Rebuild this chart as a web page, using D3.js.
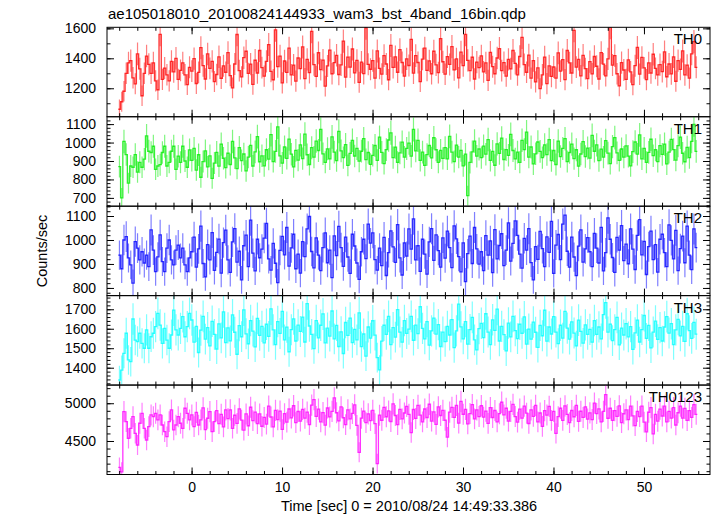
<!DOCTYPE html>
<html><head><meta charset="utf-8">
<script src="https://cdn.jsdelivr.net/npm/d3@7"></script>
<style>
html,body{margin:0;padding:0;background:#fff;}
svg{display:block;font-family:"Liberation Sans",Arial,Helvetica,sans-serif;}
</style></head>
<body>
<svg id="chart" width="717" height="516"></svg>
<script>
// ---------------- data ----------------
const title = "ae105018010_20100824144933_wam3_bst_4band_16bin.qdp";
const xLabel = "Time [sec] 0 = 2010/08/24 14:49:33.386";
const yLabel = "Counts/sec";
const binStart = -8.1;      // start time of first bin (s)
const binWidth = 0.25;      // bin width (s)
const panelNames = ["TH0", "TH1", "TH2", "TH3", "TH0123"];
const xTickLabels = [0, 10, 20, 30, 40, 50];

const th0 = [
1060,1110,1180,1300,1370,1385,1270,1230,1430,1330,1150,1300,1415,1360,1300,1370,
1250,1190,1560,1260,1335,1290,1250,1380,1310,1400,1260,1320,1370,1290,1225,1340,
1315,1398,1232,1306,1471,1351,1262,1429,1333,1380,1245,1292,1410,1267,1350,1307,
1438,1285,1203,1362,1559,1318,1276,1404,1447,1299,1361,1226,1387,1302,1452,1338,
1281,1379,1492,1313,1257,1590,1344,1415,1236,1382,1306,1468,1290,1355,1248,1402,
1331,1476,1265,1393,1304,1580,1358,1279,1437,1325,1388,1214,1349,1455,1297,1371,
1420,1292,1356,1515,1275,1408,1341,1462,1303,1386,1240,1374,1298,1604,1360,1327,
1385,1268,1449,1333,1295,1418,1362,1257,1486,1339,1410,1307,1458,1372,1281,1396,
1352,1527,1301,1418,1372,1245,1395,1468,1320,1383,1297,1447,1356,1304,1532,1377,
1294,1411,1359,1478,1323,1396,1270,1441,1351,1560,1386,1318,1407,1262,1375,1338,
1416,1309,1370,1253,1439,1344,1297,1402,1465,1318,1371,1281,1393,1330,1452,1366,
1289,1412,1540,1358,1307,1421,1268,1384,1243,1336,1197,1290,1408,1231,1350,1279,
1342,1268,1436,1315,1391,1258,1452,1370,1302,1587,1341,1393,1283,1420,1331,1264,
1378,1296,1412,1347,1262,1438,1361,1283,1396,1608,1355,1418,1297,1216,1371,1322,
1260,1389,1309,1224,1351,1473,1294,1406,1336,1258,1370,1302,1427,1333,1289,1358,
1311,1443,1277,1362,1296,1410,1247,1385,1326,1449,1289,1354,1268,1430,1512,1340
];
const th1 = [
870,700,1006,935,780,873,866,935,840,893,866,910,1036,953,946,980,
855,873,880,946,980,873,893,953,980,855,926,893,980,900,866,960,
903,968,851,934,812,897,955,868,928,806,889,947,872,991,915,864,
942,881,1006,917,859,973,902,938,846,921,985,873,950,1032,896,928,
874,961,910,1043,897,952,1085,928,889,976,914,1019,937,868,958,905,
987,913,1046,934,881,972,921,1008,957,1072,939,893,966,912,1031,948,
902,1061,955,918,989,876,941,1012,927,968,899,953,1021,907,946,882,
931,984,903,1029,947,886,962,1014,1053,918,975,893,944,1002,921,968,
997,926,1071,955,1012,903,948,876,935,984,917,1026,961,893,958,914,
972,912,1033,948,897,986,921,958,874,937,712,892,949,1008,926,965,
918,981,937,1016,903,952,877,993,941,1024,908,962,931,1044,957,912,
948,893,1012,962,1057,921,976,884,939,1003,952,918,987,935,1016,902,
957,881,1008,924,968,1021,897,946,992,913,961,872,938,1005,924,970,
916,1039,953,987,902,964,921,1011,943,886,978,1027,944,903,965,921,
982,926,874,951,1003,937,1042,912,968,893,947,1018,929,961,897,983,
936,991,884,948,1017,962,905,983,1029,942,896,974,918,1006,1098,952
];
const th2 = [
937,880,1000,1014,925,896,820,993,966,917,951,904,937,889,1042,958,
868,930,1021,910,868,966,1000,917,896,958,979,925,966,896,868,925,
951,1012,887,963,1058,902,846,981,917,1031,873,948,1004,862,989,1041,
917,865,992,1047,908,953,834,976,1020,889,1083,945,871,1003,926,962,
1008,1069,921,874,986,903,822,957,1015,938,1052,891,967,1024,880,941,
862,993,931,1046,1098,952,884,1009,937,872,968,1030,905,958,843,1017,
935,1057,968,890,1012,929,861,1024,975,904,836,951,1003,922,1066,987,
1030,918,874,966,893,1011,852,947,1038,971,907,1064,925,854,988,933,
1046,962,1088,917,976,869,1003,941,858,992,1047,915,1021,956,887,1009,
924,1037,968,885,1059,1005,931,867,988,826,943,1016,902,1052,963,899,
951,872,1018,937,996,864,1043,921,977,1026,893,958,1071,912,986,1080,
1019,941,883,1007,958,1047,906,834,972,919,1036,964,889,1013,948,1078,
861,979,1023,918,1066,1104,953,887,1012,929,851,974,1042,908,963,1010,
951,889,1028,966,904,1053,871,947,1092,1003,927,865,1011,958,1060,914,
983,901,1046,962,877,1019,1085,938,994,856,972,1037,918,981,866,1003,
1024,947,889,1063,998,921,1040,872,964,1016,905,1058,937,876,1046,968
];
const th3 = [
1337,1388,1474,1577,1440,1431,1650,1542,1534,1577,1525,1500,1594,1500,1559,1577,
1611,1679,1619,1525,1602,1542,1500,1568,1696,1594,1568,1602,1662,1559,1611,1679,
1645,1531,1612,1478,1593,1664,1547,1606,1512,1638,1571,1496,1625,1553,1687,1529,
1604,1538,1671,1582,1469,1616,1559,1697,1574,1523,1642,1588,1507,1653,1566,1612,
1528,1623,1561,1702,1594,1519,1637,1576,1689,1543,1608,1482,1595,1651,1537,1619,
1586,1660,1532,1729,1614,1571,1498,1642,1553,1618,1676,1527,1603,1562,1691,1548,
1617,1509,1584,1473,1632,1566,1654,1529,1597,1543,1681,1508,1573,1460,1609,1552,
1641,1567,1452,1389,1536,1618,1571,1664,1519,1606,1557,1698,1583,1531,1642,1576,
1598,1663,1541,1619,1575,1713,1602,1548,1637,1516,1589,1654,1572,1621,1509,1583,
1534,1612,1568,1647,1503,1589,1726,1610,1548,1637,1521,1596,1658,1543,1492,1601,
1628,1554,1677,1583,1519,1646,1592,1701,1537,1612,1570,1486,1629,1558,1663,1590,
1549,1623,1577,1661,1521,1598,1547,1634,1582,1504,1617,1564,1695,1536,1609,1573,
1662,1583,1524,1618,1552,1689,1603,1547,1635,1578,1512,1644,1587,1526,1620,1571,
1597,1531,1642,1571,1609,1548,1672,1734,1583,1624,1539,1595,1658,1517,1603,1568,
1626,1558,1611,1494,1579,1644,1532,1596,1668,1551,1617,1502,1583,1639,1545,1606,
1537,1609,1662,1578,1626,1519,1594,1648,1563,1612,1535,1677,1590,1551,1633,1572
];
const th0123 = [
4151,4090,4889,4756,4536,4668,4822,4602,4447,4735,4867,4668,4513,4690,4845,4822,
4867,4779,4845,4712,4623,4557,4756,4911,4646,4712,4822,4735,4668,4934,4867,4779,
4845,4690,4879,4712,4779,4939,4650,4801,4889,4623,4756,4902,4731,4853,4686,4912,
4797,4912,4668,4841,4733,4925,4776,4644,4858,4702,4947,4769,4883,4731,4858,4695,
4812,4723,4961,4818,4686,4905,4782,4896,4653,4862,4749,4924,4805,4967,4742,4891,
4764,4918,4802,4883,4718,4976,5048,4825,4921,4752,4876,4709,4937,4819,4892,5071,
4874,4766,4952,4808,4717,4913,4793,4865,4978,4707,4350,4802,4895,4743,4859,4769,
4906,4731,4200,4842,4775,4946,4821,4898,4758,4991,4838,4716,4918,4793,4871,4958,
4853,4611,4917,4799,4972,4843,4754,4924,4811,4987,4763,4886,4721,4952,4838,4906,
4775,4552,4883,4946,4812,4972,4738,5024,4854,4919,4727,4863,4981,4793,4911,4824,
4967,4816,4895,4734,4942,4811,4904,4753,4862,5013,4845,4934,4763,4893,4984,4824,
4751,4922,4803,4963,4868,4732,4911,4826,4973,4754,4871,4693,4902,4843,4958,4773,
4892,4601,4823,4934,4773,4965,4852,4743,4904,4821,4973,4761,4894,4812,4953,4791,
4872,4784,5002,4863,4926,4753,4892,5113,4801,4934,4772,4903,4826,4964,4743,4861,
4913,4782,4963,4832,4704,4893,4824,4962,4751,4622,4881,4942,4593,4853,4762,4922,
4831,4963,4752,4893,4803,4942,4712,4874,4962,4803,4933,4772,4903,4812,4982,4853
];
const seriesValues = [th0, th1, th2, th3, th0123];
const seriesColors = ["#ff0000", "#00ee00", "#0000ff", "#00ffff", "#ff00ff"];
const yDomains = [[1010,1607],[655,1140],[768,1141],[1311,1770],[4056,5241]];
const yMajorTicks = [[1200,1400,1600],[700,800,900,1000,1100],[800,900,1000,1100],[1400,1500,1600,1700],[4500,5000]];
const yMinorStep = [100, 20, 20, 20, 100];

// ---------------- layout ----------------
const svg = d3.select("#chart");
const left = 107, right = 710, top0 = 27.3, panelH = 89.44;
const x = d3.scaleLinear().domain([-9.35, 57.3]).range([left, right]);
const xMinor = d3.range(-8, 57, 2);

svg.append("text").attr("x", 108).attr("y", 19).attr("font-size", 15)
  .attr("fill", "#000").text(title);

seriesValues.forEach((vals, p) => {
  const y0 = top0 + p * panelH, y1 = y0 + panelH;
  const y = d3.scaleLinear().domain(yDomains[p]).range([y1, y0]);
  const g = svg.append("g");
  const clipId = "clip" + p;
  svg.append("clipPath").attr("id", clipId).append("rect")
    .attr("x", left).attr("y", y0).attr("width", right - left).attr("height", panelH);

  const data = vals.map((v, i) => ({
    t0: binStart + i * binWidth,
    t1: binStart + (i + 1) * binWidth,
    tc: binStart + (i + 0.5) * binWidth,
    v: v,
    e: Math.sqrt(v * binWidth) / binWidth   // Poisson error of the rate
  }));

  const dg = g.append("g").attr("clip-path", `url(#${clipId})`);
  dg.selectAll("line.err").data(data).join("line")
    .attr("x1", d => x(d.tc)).attr("x2", d => x(d.tc))
    .attr("y1", d => y(d.v - d.e)).attr("y2", d => y(d.v + d.e))
    .attr("stroke", seriesColors[p]).attr("stroke-opacity", 0.5).attr("stroke-width", 1.2);
  const pts = data.map(d => [d.t0, d.v]);
  pts.push([data[data.length - 1].t1, data[data.length - 1].v]);
  const line = d3.line().x(d => x(d[0])).y(d => y(d[1])).curve(d3.curveStepAfter);
  dg.append("path").attr("d", line(pts)).attr("fill", "none")
    .attr("stroke", seriesColors[p]).attr("stroke-opacity", 0.8).attr("stroke-width", 1.3);

  const fmt = d3.format("d");
  const yMinor = d3.range(Math.ceil(yDomains[p][0] / yMinorStep[p]) * yMinorStep[p], yDomains[p][1], yMinorStep[p]);
  g.append("g").attr("transform", `translate(${left},0)`)
    .call(d3.axisLeft(y).tickValues(yMajorTicks[p]).tickSize(-7).tickPadding(11).tickFormat(fmt));
  g.append("g").attr("transform", `translate(${left},0)`)
    .call(d3.axisLeft(y).tickValues(yMinor).tickSize(-3.5).tickFormat(""));
  g.append("g").attr("transform", `translate(${right},0)`)
    .call(d3.axisRight(y).tickValues(yMajorTicks[p]).tickSize(-7).tickFormat(""));
  g.append("g").attr("transform", `translate(${right},0)`)
    .call(d3.axisRight(y).tickValues(yMinor).tickSize(-3.5).tickFormat(""));

  const isLast = p === seriesValues.length - 1;
  const axB = d3.axisBottom(x).tickValues(xTickLabels).tickSize(-7).tickPadding(8)
    .tickFormat(isLast ? fmt : "");
  g.append("g").attr("transform", `translate(0,${y1})`).call(axB);
  g.append("g").attr("transform", `translate(0,${y1})`)
    .call(d3.axisBottom(x).tickValues(xMinor).tickSize(-3.5).tickFormat(""));
  g.append("g").attr("transform", `translate(0,${y0})`)
    .call(d3.axisTop(x).tickValues(xTickLabels).tickSize(-7).tickFormat(""));
  g.append("g").attr("transform", `translate(0,${y0})`)
    .call(d3.axisTop(x).tickValues(xMinor).tickSize(-3.5).tickFormat(""));

  g.selectAll(".domain").remove();
  g.selectAll(".tick line").attr("stroke", "#000").attr("stroke-width", 1);
  g.selectAll(".tick text").attr("font-size", 14).attr("fill", "#000")
    .attr("font-family", "'Liberation Sans',Arial,sans-serif");

  g.append("rect").attr("x", left).attr("y", y0).attr("width", right - left).attr("height", panelH)
    .attr("fill", "none").attr("stroke", "#000").attr("stroke-width", 1);

  g.append("text").attr("x", 702).attr("y", y0 + 17).attr("text-anchor", "end")
    .attr("font-size", 15).attr("fill", "#000").text(panelNames[p]);
});

svg.append("text").attr("x", 409).attr("y", 511).attr("text-anchor", "middle")
  .attr("font-size", 14.5).attr("fill", "#000").text(xLabel);
svg.append("text").attr("transform", "translate(47,251) rotate(-90)")
  .attr("text-anchor", "middle").attr("font-size", 14.5).attr("fill", "#000").text(yLabel);
</script>
</body></html>
